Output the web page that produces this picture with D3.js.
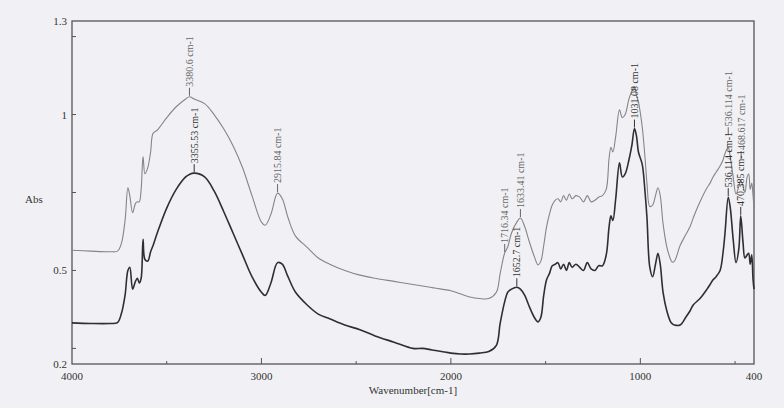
<!DOCTYPE html>
<html>
<head>
<meta charset="utf-8">
<script src="https://cdn.jsdelivr.net/npm/d3@7"></script>
<style>
  body { margin: 0; background: #f1f1f5; }
  svg { display: block; }
  text { font-family: "Liberation Serif", "DejaVu Serif", serif; fill: #333; }
</style>
</head>
<body>
<svg id="chart" width="784" height="408"></svg>
<script>
// wavenumbers (cm-1)
var wavenumbers = [4000,3900,3800,3760,3740,3720,3705,3695,3680,3665,3655,3645,3635,3625,3615,3600,3585,3572,3550,3500,3450,3400,3380,3355,3300,3250,3200,3150,3100,3050,3000,2980,2950,2915,2890,2860,2820,2760,2700,2640,2560,2480,2400,2300,2200,2150,2100,2050,2000,1950,1900,1850,1800,1760,1740,1716,1700,1680,1652,1633,1610,1590,1560,1540,1525,1510,1495,1480,1465,1450,1435,1420,1405,1390,1375,1360,1340,1320,1300,1280,1260,1240,1220,1200,1180,1165,1155,1145,1130,1110,1095,1080,1060,1045,1031,1020,1010,990,975,965,950,935,920,907,895,880,860,840,833,820,790,760,738,720,685,648,632,616,600,579,563,553,536,525,510,495,480,470,458,448,436,428,420,412,405,400];
var upperAbs = [0.565,0.562,0.560,0.562,0.585,0.66,0.765,0.74,0.685,0.715,0.72,0.72,0.76,0.865,0.81,0.83,0.88,0.94,0.95,0.99,1.025,1.05,1.057,1.05,1.035,1.0,0.955,0.9,0.83,0.74,0.655,0.645,0.68,0.748,0.73,0.67,0.61,0.575,0.54,0.52,0.50,0.485,0.475,0.465,0.455,0.45,0.445,0.44,0.435,0.425,0.415,0.41,0.41,0.43,0.49,0.556,0.575,0.62,0.655,0.668,0.64,0.60,0.545,0.518,0.53,0.58,0.64,0.68,0.71,0.725,0.73,0.72,0.74,0.725,0.745,0.73,0.74,0.735,0.72,0.74,0.72,0.725,0.735,0.74,0.76,0.86,0.895,0.88,0.93,1.015,0.99,1.0,1.05,1.075,1.09,1.06,1.04,0.96,0.86,0.78,0.705,0.71,0.74,0.765,0.74,0.65,0.575,0.535,0.527,0.53,0.58,0.615,0.64,0.67,0.72,0.765,0.78,0.80,0.815,0.835,0.855,0.875,0.895,0.86,0.80,0.745,0.77,0.79,0.77,0.75,0.80,0.81,0.76,0.78,0.74,0.70];
var lowerAbs = [0.332,0.330,0.330,0.333,0.36,0.42,0.50,0.51,0.44,0.465,0.475,0.46,0.475,0.60,0.535,0.53,0.56,0.58,0.62,0.70,0.76,0.80,0.808,0.812,0.80,0.755,0.69,0.62,0.55,0.48,0.43,0.42,0.46,0.525,0.52,0.48,0.43,0.39,0.36,0.345,0.325,0.31,0.29,0.27,0.25,0.25,0.245,0.24,0.235,0.232,0.232,0.235,0.24,0.26,0.33,0.40,0.43,0.44,0.446,0.44,0.42,0.39,0.35,0.335,0.35,0.42,0.47,0.49,0.515,0.52,0.525,0.505,0.52,0.50,0.525,0.51,0.52,0.51,0.50,0.525,0.505,0.50,0.515,0.515,0.55,0.64,0.675,0.66,0.73,0.845,0.80,0.81,0.855,0.90,0.955,0.93,0.88,0.84,0.75,0.67,0.51,0.48,0.52,0.555,0.52,0.43,0.37,0.335,0.33,0.325,0.325,0.35,0.37,0.39,0.41,0.44,0.455,0.47,0.48,0.50,0.56,0.62,0.735,0.70,0.60,0.525,0.57,0.675,0.59,0.54,0.55,0.555,0.52,0.55,0.47,0.44];

var xTickLabels = [4000, 3000, 2000, 1000, 400];
var yTickLabels = [1.3, 1, 0.5, 0.2];

// peak annotations: [wavenumber, series, text, gap above peak]
var peakLabels = [
  [3380, "upper", "3380.6 cm-1", 9],
  [3355, "lower", "3355.53 cm-1", 9],
  [2915, "upper", "2915.84 cm-1", 9],
  [1716, "upper", "1716.34 cm-1", 9],
  [1633, "upper", "1633.41 cm-1", 9],
  [1652, "lower", "1652.7 cm-1", 9],
  [1031, "lower", "1031.08 cm-1", 9],
  [536, "upper", "536.114 cm-1", 20],
  [536, "lower", "536.114 cm-1", 9],
  [468, "upper", "468.617 cm-1", 30],
  [470, "lower", "470.385 cm-1", 9]
];

var svg = d3.select("#chart");
var pLeft = 72, pRight = 754, pTop = 21, pBottom = 364;

var x = d3.scaleLinear().domain([4000, 400]).range([pLeft, pRight]);
var y = d3.scaleLinear().domain([0.2, 1.3]).range([pBottom, pTop]);

// frame
svg.append("rect")
    .attr("x", pLeft).attr("y", pTop)
    .attr("width", pRight - pLeft).attr("height", pBottom - pTop)
    .attr("fill", "none").attr("stroke", "#555").attr("stroke-width", 1.3);

// x ticks (inward)
var xt = svg.append("g");
d3.range(500, 4000, 500).forEach(function(v) {
    var len = v % 1000 == 0 ? 6 : 3;
    xt.append("line")
        .attr("x1", x(v)).attr("x2", x(v))
        .attr("y1", pBottom).attr("y2", pBottom - len)
        .attr("stroke", "#555");
});
xt.selectAll("text").data(xTickLabels).enter()
    .append("text")
    .attr("x", d => x(d))
    .attr("y", pBottom + 16)
    .attr("text-anchor", "middle")
    .attr("font-size", 11)
    .text(d => d);

// y ticks (inward)
var yt = svg.append("g");
[0.25, 0.5, 0.75, 1, 1.25].forEach(function(v) {
    yt.append("line")
        .attr("x1", pLeft).attr("x2", pLeft + 4)
        .attr("y1", y(v)).attr("y2", y(v))
        .attr("stroke", "#555");
});
yt.selectAll("text").data(yTickLabels).enter()
    .append("text")
    .attr("x", pLeft - 5)
    .attr("y", d => y(d) + 4)
    .attr("text-anchor", "end")
    .attr("font-size", 11)
    .text(d => d);

svg.append("text").attr("x", 25).attr("y", 203)
    .attr("font-size", 11).text("Abs");
svg.append("text").attr("x", (pLeft + pRight) / 2).attr("y", 394)
    .attr("text-anchor", "middle").attr("font-size", 11)
    .text("Wavenumber[cm-1]");

// spectra
var series = {
    upper: wavenumbers.map((w, i) => [w, upperAbs[i]]),
    lower: wavenumbers.map((w, i) => [w, lowerAbs[i]])
};
var line = d3.line()
    .x(d => x(d[0]))
    .y(d => y(d[1]))
    .curve(d3.curveCatmullRom.alpha(0.5));

svg.append("path").datum(series.upper)
    .attr("d", line).attr("fill", "none")
    .attr("stroke", "#858589").attr("stroke-width", 1.1);
svg.append("path").datum(series.lower)
    .attr("d", line).attr("fill", "none")
    .attr("stroke", "#2e2e33").attr("stroke-width", 1.6);

// peak labels
function valueAt(name, w) {
    var pts = series[name];
    for (var i = 0; i < pts.length - 1; i++) {
        if (pts[i][0] >= w && pts[i + 1][0] <= w) {
            var t = (pts[i][0] - w) / (pts[i][0] - pts[i + 1][0]);
            return pts[i][1] + t * (pts[i + 1][1] - pts[i][1]);
        }
    }
    return pts[pts.length - 1][1];
}

var pl = svg.append("g");
peakLabels.forEach(function(p) {
    var px = x(p[0]);
    var py = y(valueAt(p[1], p[0]));
    var col = p[1] == "upper" ? "#666" : "#333";
    // short leader just under the text
    pl.append("line")
        .attr("x1", px).attr("x2", px)
        .attr("y1", py - p[3] + 8).attr("y2", py - p[3])
        .attr("stroke", col);
    pl.append("text")
        .attr("transform", "translate(" + (px + 3.5) + "," + (py - p[3] - 1) + ") rotate(-90)")
        .attr("font-size", 10)
        .style("fill", col)
        .text(p[2]);
});
</script>
</body>
</html>
